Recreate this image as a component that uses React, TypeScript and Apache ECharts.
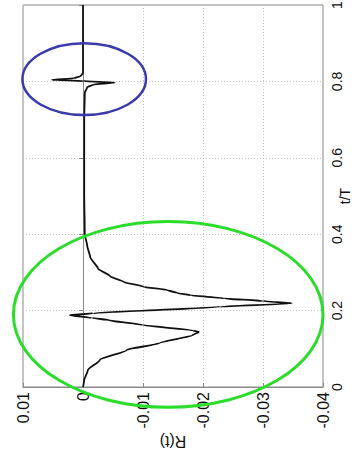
import React, { useEffect, useRef } from "react";
import * as echarts from "echarts";

// t/T values (vertical axis) and R(t) values (horizontal axis)
const tValues = [
  0, 0.018, 0.044, 0.071, 0.097, 0.115, 0.136, 0.144, 0.148, 0.162, 0.175, 0.181, 0.188,
  0.193, 0.21, 0.219, 0.225, 0.232, 0.24, 0.246, 0.254, 0.262, 0.275, 0.29, 0.31, 0.34,
  0.37, 0.4, 0.5, 0.6, 0.7, 0.77, 0.785, 0.792, 0.797, 0.801, 0.804, 0.808, 0.814, 0.822,
  0.9, 1,
];
const rValues = [
  0, -0.0002, -0.0008, -0.0028, -0.0073, -0.0128, -0.0183, -0.0193, -0.0183, -0.01, -0.0043,
  -0.0015, 0.0022, -0.0017, -0.0228, -0.0348, -0.03, -0.0235, -0.018, -0.0157, -0.014,
  -0.0102, -0.0068, -0.0045, -0.0025, -0.0012, -0.0007, -0.0003, -0.0002, -0.0002, -0.0002,
  -0.0003, -0.0007, -0.0018, -0.0053, 0.0, 0.0052, 0.0015, 0.0004, 0, 0, 0,
];

// annotation ellipses: [centre R, centre t, half-width in R, half-height in t]
const greenEllipse = [-0.0142, 0.19, 0.0258, 0.243];
const blueEllipse = [-0.0002, 0.806, 0.0103, 0.094];

const rTicks = { min: -0.04, max: 0.01, interval: 0.01 };
const tTicks = { min: 0, max: 1, interval: 0.2 };

const FONT = "'Liberation Sans', Arial, sans-serif";

function ellipseSeries(values: number[], color: string, width: number) {
  return {
    type: "custom",
    clip: false,
    z: 5,
    data: [values],
    encode: { x: 0, y: 1 },
    renderItem: (_params: any, api: any) => {
      const c = api.coord([api.value(0), api.value(1)]);
      const s = api.size([api.value(2), api.value(3)]);
      return {
        type: "ellipse",
        shape: { cx: c[0], cy: c[1], rx: Math.abs(s[0]), ry: Math.abs(s[1]) },
        style: { fill: "none", stroke: color, lineWidth: width },
      };
    },
  };
}

export default function App() {
  const ref = useRef<HTMLDivElement>(null);

  useEffect(() => {
    if (!ref.current) return;
    const chart = echarts.init(ref.current, undefined, { renderer: "svg" });
    const lineData = tValues.map((t, i) => [rValues[i], t]);
    chart.setOption({
      animation: false,
      backgroundColor: "#ffffff",
      textStyle: { fontFamily: FONT },
      grid: {
        left: 23,
        top: 5,
        right: 31,
        bottom: 71,
        outerBoundsMode: "none",
        containLabel: false,
        show: true,
        borderColor: "#8a8a8a",
        borderWidth: 1,
      },
      xAxis: {
        type: "value",
        inverse: true,
        min: rTicks.min,
        max: rTicks.max,
        interval: rTicks.interval,
        position: "bottom",
        name: "R(t)",
        nameLocation: "middle",
        nameRotate: 180,
        nameGap: 46,
        nameMoveOverlap: false,
        nameTextStyle: { fontSize: 16, color: "#111", fontFamily: FONT },
        axisLine: { show: true, lineStyle: { color: "#8a8a8a" } },
        axisTick: { show: true, inside: true, length: 4, lineStyle: { color: "#8a8a8a" } },
        axisLabel: {
          rotate: 90,
          margin: 5,
          fontSize: 16,
          color: "#111",
          fontFamily: FONT,
          formatter: (v: number) => String(Number(v.toFixed(2))),
        },
        splitLine: { show: true, lineStyle: { color: "#c4c4c4", type: [1, 2] } },
      },
      yAxis: {
        type: "value",
        min: tTicks.min,
        max: tTicks.max,
        interval: tTicks.interval,
        position: "right",
        name: "t/T",
        nameLocation: "middle",
        nameRotate: 90,
        nameGap: 15,
        nameMoveOverlap: false,
        nameTextStyle: { fontSize: 14, color: "#111", fontFamily: FONT },
        axisLine: { show: true, lineStyle: { color: "#8a8a8a" } },
        axisTick: { show: true, inside: true, length: 4, lineStyle: { color: "#8a8a8a" } },
        axisLabel: {
          rotate: 90,
          margin: 7,
          fontSize: 14,
          color: "#111",
          fontFamily: FONT,
          formatter: (v: number) => String(Number(v.toFixed(1))),
        },
        splitLine: { show: true, lineStyle: { color: "#c4c4c4", type: [1, 2] } },
      },
      series: [
        {
          type: "line",
          data: lineData,
          showSymbol: false,
          smooth: 0.2,
          smoothMonotone: "y",
          lineStyle: { color: "#111", width: 1.8 },
          z: 3,
        },
        ellipseSeries(greenEllipse, "#2bdc2b", 3),
        ellipseSeries(blueEllipse, "#3a3aac", 2.5),
      ],
    });
    return () => chart.dispose();
  }, []);

  return (
    <div
      ref={ref}
      style={{ position: "fixed", left: 0, top: 0, width: 354, height: 458 }}
    />
  );
}
